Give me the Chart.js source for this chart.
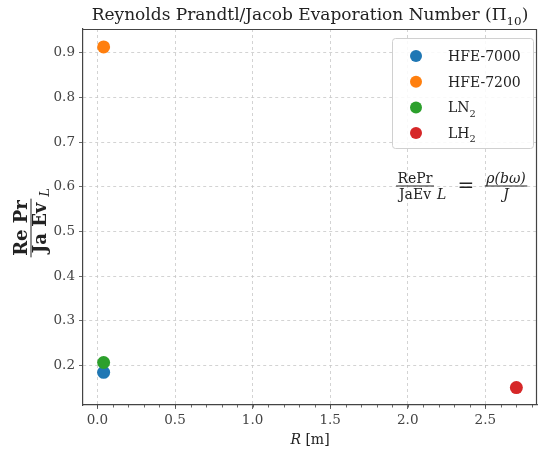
<!DOCTYPE html>
<html>
<head>
<meta charset="utf-8">
<script src="https://cdn.jsdelivr.net/npm/chart.js@4/dist/chart.umd.min.js"></script>
<style>
  html, body { margin: 0; padding: 0; background: #fff; }
  #wrap { width: 538px; height: 455px; }
</style>
</head>
<body>
<div id="wrap"><canvas id="chart" width="538" height="455"></canvas></div>
<script>
// fluids and their values of Pi_10 against characteristic radius R
const seriesLabels = ["HFE-7000", "HFE-7200", "LN_2", "LH_2"];
const seriesColors = ["#1f77b4", "#ff7f0e", "#2ca02c", "#d62728"];
const radiusValues = [0.04, 0.04, 0.04, 2.7];
const pi10Values = [0.185, 0.913, 0.207, 0.151];

const xTicks = [0.0, 0.5, 1.0, 1.5, 2.0, 2.5];
const xMinorTicks = [];
for (let i = -1; i <= 28; i++) xMinorTicks.push(i / 10);
const yTicks = [0.2, 0.3, 0.4, 0.5, 0.6, 0.7, 0.8, 0.9];

const SERIF = "'DejaVu Serif', serif";
const AXIS_COLOR = "#444";

// draw a run of text pieces, "sub" parts as subscripts
function drawRich(ctx, parts, x, y, size, opts) {
  opts = opts || {};
  let cx = x;
  const fontOf = p => (p.bold ? "bold " : "") + (p.italic ? "italic " : "") + (p.sub ? size * 0.7 : size) + "px " + SERIF;
  const widths = parts.map(p => {
    ctx.font = fontOf(p);
    return ctx.measureText(p.t).width;
  });
  const total = widths.reduce((a, b) => a + b, 0);
  if (opts.align === "center") cx = x - total / 2;
  if (opts.align === "right") cx = x - total;
  parts.forEach((p, i) => {
    ctx.font = fontOf(p);
    ctx.fillText(p.t, cx, p.sub ? y + size * 0.3 : y);
    cx += widths[i];
  });
  return total;
}

function labelParts(label) {
  const bits = label.split("_");
  const parts = [{ t: bits[0] }];
  if (bits[1]) parts.push({ t: bits[1], sub: true });
  return parts;
}

// stacked fraction centred on (cx, barY)
function drawFraction(ctx, num, den, cx, barY, numFont, denFont, gapTop, gapBottom) {
  ctx.font = numFont;
  const nw = ctx.measureText(num).width;
  ctx.font = denFont;
  const dw = ctx.measureText(den).width;
  const w = Math.max(nw, dw) + 3;
  ctx.textAlign = "center";
  ctx.font = numFont;
  ctx.fillText(num, cx, barY - gapTop);
  ctx.font = denFont;
  ctx.fillText(den, cx, barY + gapBottom);
  ctx.fillRect(cx - w / 2, barY - 0.5, w, 1);
  return w;
}

const decorations = {
  id: "decorations",
  beforeDatasetsDraw(chart) {
    const { ctx, chartArea: a } = chart;
    ctx.save();
    // frame on top and right
    ctx.strokeStyle = AXIS_COLOR;
    ctx.lineWidth = 1.2;
    ctx.beginPath();
    ctx.moveTo(a.left, a.top + 0.5);
    ctx.lineTo(a.right - 0.5, a.top + 0.5);
    ctx.lineTo(a.right - 0.5, a.bottom);
    ctx.stroke();
    // minor ticks on x
    const xs = chart.scales.x;
    ctx.lineWidth = 0.8;
    ctx.beginPath();
    xMinorTicks.forEach(v => {
      const px = Math.round(xs.getPixelForValue(v)) + 0.5;
      if (px < a.left || px > a.right) return;
      ctx.moveTo(px, a.bottom);
      ctx.lineTo(px, a.bottom + 2.5);
    });
    ctx.stroke();
    ctx.restore();
  },
  afterDraw(chart) {
    const { ctx, chartArea: a } = chart;
    ctx.save();
    ctx.fillStyle = "#222";
    ctx.textBaseline = "alphabetic";

    // title
    drawRich(ctx, [
      { t: "Reynolds Prandtl/Jacob Evaporation Number (Π" },
      { t: "10", sub: true },
      { t: ")" }
    ], (a.left + a.right) / 2, 20, 17, { align: "center" });

    // x axis title
    drawRich(ctx, [{ t: "R", italic: true }, { t: " [m]" }], (a.left + a.right) / 2, 444, 14, { align: "center" });

    // y axis title: bold fraction Re Pr / Ja Ev with subscript L
    ctx.save();
    ctx.translate(31, 228);
    ctx.rotate(-Math.PI / 2);
    const yf = "bold 18px " + SERIF;
    const fw = drawFraction(ctx, "Re Pr", "Ja Ev", 0, 0, yf, yf, 4, 15);
    ctx.font = "italic 13px " + SERIF;
    ctx.textAlign = "left";
    ctx.fillText("L", fw / 2 + 2, 18);
    ctx.restore();

    // equation annotation
    ctx.save();
    const eqY = 186;
    const lf = "14px " + SERIF;
    const lw = drawFraction(ctx, "RePr", "JaEv", 415, eqY, lf, lf, 3, 13);
    ctx.font = "italic 14px " + SERIF;
    ctx.textAlign = "left";
    ctx.fillText("L", 415 + lw / 2 + 3, eqY + 13);
    ctx.font = "20px " + SERIF;
    ctx.textAlign = "center";
    ctx.fillText("=", 466, eqY + 6);
    const rf = "italic 14px " + SERIF;
    drawFraction(ctx, "ρ(bω)", "J", 506, eqY, rf, rf, 3, 13);
    ctx.restore();

    // legend box
    const bx = 392, by = 38, bw = 141, bh = 110;
    ctx.fillStyle = "rgba(255,255,255,0.85)";
    ctx.strokeStyle = "#d0d0d0";
    ctx.lineWidth = 1;
    ctx.beginPath();
    ctx.roundRect(bx + 0.5, by + 0.5, bw, bh, 3);
    ctx.fill();
    ctx.stroke();
    seriesLabels.forEach((lab, i) => {
      const y = 56 + i * 25.7;
      ctx.fillStyle = seriesColors[i];
      ctx.beginPath();
      ctx.arc(416, y, 6, 0, Math.PI * 2);
      ctx.fill();
      ctx.fillStyle = "#222";
      drawRich(ctx, labelParts(lab), 448, y + 5, 14);
    });
    ctx.restore();
  }
};

const datasets = seriesLabels.map((lab, i) => ({
  label: lab,
  data: [{ x: radiusValues[i], y: pi10Values[i] }],
  backgroundColor: seriesColors[i],
  borderColor: seriesColors[i],
  pointRadius: 6.5,
  pointBorderWidth: 0,
  order: seriesLabels.length - i
}));

new Chart(document.getElementById("chart"), {
  type: "scatter",
  data: { datasets },
  options: {
    responsive: false,
    animation: false,
    layout: { autoPadding: false, padding: { top: 29, right: 1, left: 0, bottom: 0 } },
    plugins: { legend: { display: false }, tooltip: { enabled: false } },
    scales: {
      x: {
        type: "linear",
        min: -0.093,
        max: 2.833,
        afterBuildTicks: s => { s.ticks = xTicks.map(v => ({ value: v })); },
        afterFit: s => { s.height = 50; },
        ticks: {
          color: AXIS_COLOR,
          font: { family: SERIF, size: 13.5 },
          padding: 3,
          maxRotation: 0,
          callback: v => v.toFixed(1)
        },
        grid: {
          color: "#c8c8c8",
          lineWidth: 0.8,
          tickColor: AXIS_COLOR,
          tickLength: 4
        },
        border: { color: AXIS_COLOR, width: 1.2, dash: [3, 3] }
      },
      y: {
        type: "linear",
        min: 0.112,
        max: 0.953,
        afterBuildTicks: s => { s.ticks = yTicks.map(v => ({ value: v })); },
        afterFit: s => { s.width = 83; },
        ticks: {
          color: AXIS_COLOR,
          font: { family: SERIF, size: 13.5 },
          padding: 4,
          callback: v => v.toFixed(1)
        },
        grid: {
          color: "#c8c8c8",
          lineWidth: 0.8,
          tickColor: AXIS_COLOR,
          tickLength: 4
        },
        border: { color: AXIS_COLOR, width: 1.2, dash: [3, 3] }
      }
    }
  },
  plugins: [decorations]
});
</script>
</body>
</html>
